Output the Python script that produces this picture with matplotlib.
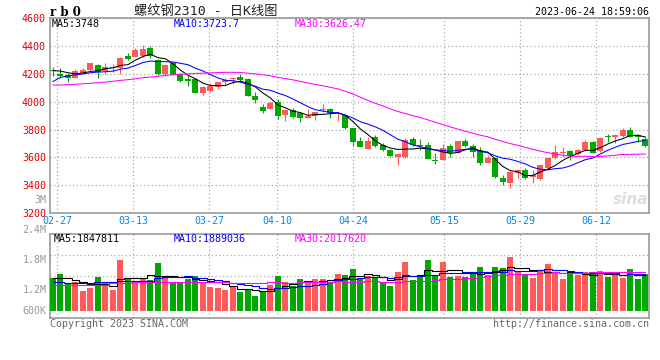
import matplotlib

matplotlib.use("Agg")
import matplotlib.pyplot as plt
import numpy as np
import pandas as pd

plt.rcParams["font.family"] = ["DejaVu Sans Mono", "Noto Sans CJK SC"]

# Daily candles for rb2310, 2023-02-24 .. 2023-06-21 (80 trading days).
opens = [
    4230, 4201, 4191, 4172, 4206, 4230, 4263, 4220, 4240, 4244,
    4330, 4321, 4326, 4388, 4299, 4196, 4280, 4196, 4160, 4160,
    4064, 4078, 4102, 4141, 4165, 4180, 4165, 4040, 3963, 3946,
    4000, 3904, 3940, 3916, 3884, 3896, 3940, 3946, 3909, 3904,
    3808, 3717, 3659, 3745, 3688, 3652, 3604, 3604, 3735, 3690,
    3688, 3580, 3580, 3681, 3632, 3719, 3681, 3652, 3561, 3592,
    3455, 3417, 3489, 3508, 3459, 3443, 3527, 3592, 3632, 3647,
    3623, 3652, 3712, 3647, 3753, 3743, 3753, 3796, 3760, 3735,
]
highs = [
    4251, 4242, 4204, 4232, 4244, 4280, 4268, 4278, 4273, 4323,
    4350, 4388, 4407, 4402, 4306, 4268, 4285, 4205, 4191, 4168,
    4112, 4136, 4143, 4170, 4180, 4196, 4170, 4069, 3983, 4006,
    4019, 3940, 3952, 3923, 3946, 3927, 3981, 3952, 3927, 3909,
    3812, 3743, 3747, 3760, 3700, 3659, 3623, 3736, 3747, 3731,
    3712, 3628, 3695, 3695, 3719, 3735, 3695, 3671, 3616, 3600,
    3472, 3508, 3515, 3525, 3508, 3544, 3600, 3688, 3676, 3652,
    3657, 3724, 3719, 3743, 3765, 3767, 3808, 3819, 3767, 3747,
]
lows = [
    4186, 4172, 4143, 4167, 4199, 4215, 4172, 4196, 4215, 4196,
    4299, 4321, 4323, 4316, 4191, 4186, 4191, 4145, 4112, 4060,
    4047, 4071, 4088, 4122, 4124, 4150, 4040, 3992, 3920, 3945,
    3875, 3863, 3884, 3851, 3880, 3870, 3923, 3880, 3863, 3803,
    3683, 3673, 3659, 3676, 3645, 3604, 3544, 3597, 3681, 3652,
    3585, 3551, 3580, 3604, 3628, 3676, 3604, 3544, 3561, 3448,
    3400, 3381, 3448, 3445, 3417, 3436, 3508, 3587, 3604, 3580,
    3616, 3647, 3628, 3640, 3712, 3705, 3747, 3743, 3712, 3671,
]
closes = [
    4222, 4186, 4172, 4220, 4230, 4278, 4211, 4249, 4249, 4316,
    4306, 4374, 4378, 4330, 4196, 4263, 4195, 4150, 4150, 4064,
    4107, 4112, 4143, 4155, 4170, 4155, 4040, 4012, 3935, 3994,
    3899, 3940, 3892, 3884, 3896, 3927, 3945, 3916, 3916, 3808,
    3707, 3673, 3717, 3683, 3652, 3609, 3623, 3728, 3688, 3681,
    3587, 3575, 3664, 3632, 3719, 3681, 3640, 3556, 3592, 3460,
    3422, 3496, 3508, 3455, 3472, 3544, 3597, 3640, 3638, 3611,
    3652, 3712, 3632, 3740, 3743, 3760, 3796, 3747, 3747, 3681,
]
# Volume in millions of lots.
volumes = [
    1.78, 1.98, 1.43, 1.53, 1.07, 1.25, 1.82, 1.53, 1.12, 2.73,
    1.75, 1.60, 1.75, 1.66, 2.57, 1.78, 1.57, 1.50, 1.71, 1.87,
    1.57, 1.28, 1.25, 1.12, 1.34, 1.02, 1.18, 0.82, 1.00, 1.39,
    1.87, 1.57, 1.34, 1.71, 1.50, 1.71, 1.71, 1.57, 1.98, 1.93,
    2.25, 1.75, 1.89, 1.75, 1.53, 1.34, 2.09, 2.62, 1.66, 1.84,
    2.73, 1.93, 2.62, 1.82, 1.87, 1.82, 2.07, 2.35, 1.93, 2.35,
    2.30, 2.89, 2.07, 1.93, 1.78, 2.19, 2.51, 2.10, 1.71, 2.00,
    1.93, 2.09, 1.98, 2.14, 1.82, 1.93, 1.78, 2.25, 1.71, 2.00,
]

# Moving-average values before their window is full (the older closes are off-chart).
price_ma5_head = [4223, 4220, 4208, 4200]
price_ma10_head = [4145, 4175, 4186, 4193, 4200, 4208, 4213, 4215, 4220]
price_ma30_head = [
    4119, 4120, 4122, 4125, 4129, 4132, 4137, 4141, 4147, 4153,
    4158, 4164, 4172, 4177, 4182, 4189, 4194, 4197, 4200, 4203,
    4205, 4207, 4209, 4211, 4211, 4210, 4205, 4200, 4193,
]
vol_ma5_head = [1.75, 1.75, 1.75, 1.66]
vol_ma10_head = [1.57, 1.57, 1.48, 1.48, 1.48, 1.48, 1.53, 1.53, 1.53]
vol_ma30_head = [1.39] * 8 + [1.48] * 3 + [1.57] * 13 + [1.52] * 5

date_labels = ["02-27", "03-13", "03-27", "04-10", "04-24", "05-15", "05-29", "06-12"]
date_index = [1, 11, 21, 30, 40, 52, 62, 72]
price_ticks = [3200, 3400, 3600, 3800, 4000, 4200, 4400, 4600]

title = "螺纹钢2310 - 日K线图"
symbol = "r b 0"
timestamp = "2023-06-24 18:59:06"
price_legend = ["MA5:3748", "MA10:3723.7", "MA30:3626.47"]
vol_legend = ["MA5:1847811", "MA10:1889036", "MA30:2017620"]
vol_labels = ["2.4M", "1.8M", "1.2M", "600K"]
vol_label_values = [4.33, 2.73, 1.12, 0.0]

RED = "#ff5a5a"
GREEN = "#00a800"
MA_COLORS = ["black", "#0000ff", "#ff00ff"]
GRID = "#aaaaaa"
FRAME = "#999999"


def moving_average(values, window, head):
    ma = pd.Series(values, dtype=float).rolling(window).mean().to_numpy()
    ma[: len(head)] = head
    return ma


def style_frame(ax):
    for spine in ax.spines.values():
        spine.set_color(FRAME)
        spine.set_linewidth(1.2)
    ax.tick_params(length=0)


def fig_text(fig, x, y, s, **kw):
    # Place text in pixel coordinates of the 660x360 canvas.
    fig.text(x / 660, 1 - y / 360, s, **kw)


x = np.arange(len(closes))
o, h, l, c = map(np.array, (opens, highs, lows, closes))
colors = np.where(c >= o, RED, GREEN)
# Sina spaces the date grid 7.6 px per day while candles step 7.5 px.
grid_x = [(4 + (d - 1) * 7.6) / 7.5 for d in date_index]

fig = plt.figure(figsize=(6.6, 3.6), dpi=100)
ax = fig.add_axes([50 / 660, 1 - 213 / 360, 599 / 660, 194.8 / 360])
axv = fig.add_axes([50 / 660, 1 - 318.3 / 360, 599 / 660, 84 / 360])

# Price panel
ax.vlines(x, l, h, colors=colors, linewidth=0.8, zorder=2)
body = np.maximum(np.abs(c - o), 6)
ax.bar(x, body, bottom=np.minimum(o, c), width=0.8, color=colors, linewidth=0, zorder=3)
for window, head, color in zip((5, 10, 30), (price_ma5_head, price_ma10_head, price_ma30_head), MA_COLORS):
    ax.plot(x, moving_average(closes, window, head), color=color, linewidth=0.75, zorder=4)

ax.set_xlim(-0.4, 79.5)
ax.set_ylim(3200, 4600)
ax.set_yticks(price_ticks)
ax.set_xticks(grid_x, labels=date_labels)
ax.tick_params(axis="y", labelcolor="#e00000", labelsize=7.2, pad=3)
ax.tick_params(axis="x", labelcolor="#0b84e0", labelsize=7.2, pad=2)
ax.grid(True, linestyle=(0, (1, 2)), color=GRID, linewidth=0.9)
ax.set_axisbelow(True)
style_frame(ax)
ax.text(-0.006, 3290, "3M", transform=ax.get_yaxis_transform(), ha="right", va="center",
        color="#999999", fontsize=7.2)
ax.text(0.97, 3300, "sina", transform=ax.get_yaxis_transform(), ha="center", va="center",
        color="#dddddd", fontsize=11, fontweight="bold", style="italic", family="DejaVu Sans")

# Volume panel
axv.bar(x, volumes, width=0.8, color=colors, linewidth=0, zorder=3)
for window, head, color in zip((5, 10, 30), (vol_ma5_head, vol_ma10_head, vol_ma30_head), MA_COLORS):
    axv.plot(x, moving_average(volumes, window, head), color=color, linewidth=0.8,
             drawstyle="steps-mid", zorder=4)
vol_lo, vol_hi = -0.39, 4.10
axv.set_xlim(-0.4, 79.5)
axv.set_ylim(vol_lo, vol_hi)
axv.set_xticks(grid_x, labels=[])
axv.set_yticks([vol_lo + (vol_hi - vol_lo) * f for f in (0.25, 0.5, 0.75)], labels=[])
axv.grid(True, linestyle=(0, (1, 2)), color=GRID, linewidth=0.9)
axv.set_axisbelow(True)
style_frame(axv)
for label, value in zip(vol_labels, vol_label_values):
    axv.text(-0.006, value, label, transform=axv.get_yaxis_transform(), ha="right", va="center",
             color="#999999", fontsize=7.2, clip_on=False)

# Header, legends and footer
fig_text(fig, 50, 12, symbol, fontsize=8.5, fontweight="bold", va="center", family="DejaVu Serif")
fig_text(fig, 206, 12, title, fontsize=9.5, ha="center", va="center", color="#222222")
fig_text(fig, 649, 12, timestamp, fontsize=7.2, ha="right", va="center")
for xpos, s, color in zip((52, 174, 295), price_legend, MA_COLORS):
    fig_text(fig, xpos, 24, s, fontsize=7.2, va="center", color=color)
for xpos, s, color in zip((54, 174, 295), vol_legend, MA_COLORS):
    fig_text(fig, xpos, 239, s, fontsize=7.2, va="center", color=color)
fig_text(fig, 50, 324, "Copyright 2023 SINA.COM", fontsize=7.2, va="center", color="#666666")
fig_text(fig, 649, 324, "http://finance.sina.com.cn", fontsize=7.2, ha="right", va="center",
         color="#666666")

fig.savefig("out.png", dpi=100, facecolor="white")
